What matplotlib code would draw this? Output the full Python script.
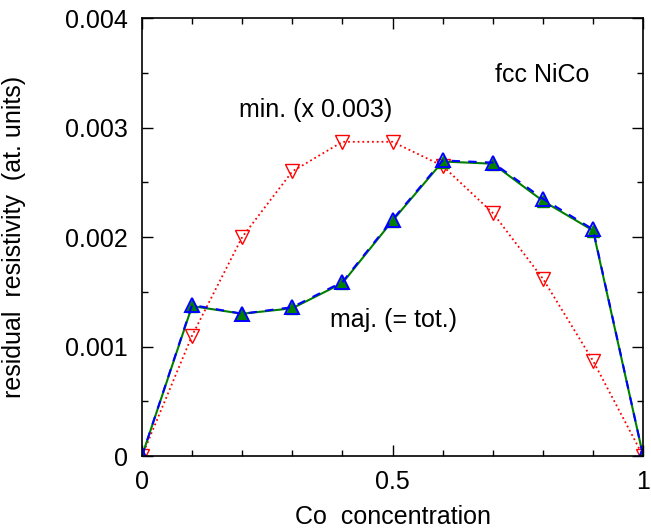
import matplotlib
matplotlib.use("Agg")
import matplotlib.pyplot as plt
from matplotlib.ticker import MultipleLocator

plt.rcParams['font.family'] = ['Liberation Sans', 'DejaVu Sans']

# Co concentration
conc = [0.0, 0.1, 0.2, 0.3, 0.4, 0.5, 0.6, 0.7, 0.8, 0.9, 1.0]
# majority (= total) residual resistivity
rho_maj = [0.0, 0.00138, 0.00130, 0.00136, 0.00159, 0.00216, 0.00270, 0.00268, 0.00235, 0.00207, 0.0]
# total resistivity (same as majority)
rho_tot = [0.0, 0.00137, 0.00130, 0.00135, 0.00158, 0.00215, 0.00269, 0.00267, 0.00233, 0.00206, 0.0]
# minority resistivity scaled by 0.003
rho_min = [0.0, 0.00110, 0.00200, 0.00260, 0.00287, 0.00287, 0.00265, 0.00222, 0.00162, 0.00087, 0.0]

fig = plt.figure(figsize=(6.51, 5.31), dpi=100)
ax = fig.add_axes([0.218, 0.141, 0.770, 0.825])

ax.plot(conc, rho_min, color='red', linestyle=':', linewidth=1.3,
        marker='v', markersize=10, markerfacecolor='none', markeredgecolor='red', markeredgewidth=1.0)
ax.plot(conc, rho_tot, color='green', linestyle='-', linewidth=1.5,
        marker='^', markersize=8, markerfacecolor='green', markeredgecolor='green')
ax.plot(conc, rho_maj, color='blue', linestyle=(0, (4, 4)), linewidth=1.5,
        marker='^', markersize=10, markerfacecolor='none', markeredgecolor='blue', markeredgewidth=1.4)

ax.set_xlim(0, 1)
ax.set_ylim(0, 0.004)
ax.set_xticks([0, 0.5, 1])
ax.set_xticklabels(['0', '0.5', '1'])
ax.xaxis.set_minor_locator(MultipleLocator(0.1))
ax.set_yticks([0, 0.001, 0.002, 0.003, 0.004])
ax.set_yticklabels(['0', '0.001', '0.002', '0.003', '0.004'])
ax.yaxis.set_minor_locator(MultipleLocator(0.0005))
ax.tick_params(which='both', direction='in', top=True, right=True, labelsize=18, width=1)
ax.tick_params(which='major', length=8, pad=10)
ax.tick_params(which='minor', length=4)
for s in ax.spines.values():
    s.set_linewidth(1.2)

ax.set_xlabel('Co  concentration', fontsize=18, labelpad=8)
ax.set_ylabel('residual  resistivity  (at. units)', fontsize=18, labelpad=28)

ax.text(0.798, 0.00348, 'fcc NiCo', fontsize=18, ha='center', va='center')
ax.text(0.347, 0.00316, 'min. (x 0.003)', fontsize=18, ha='center', va='center')
ax.text(0.501, 0.00124, 'maj. (= tot.)', fontsize=18, ha='center', va='center')

fig.savefig('out.png', dpi=100)
